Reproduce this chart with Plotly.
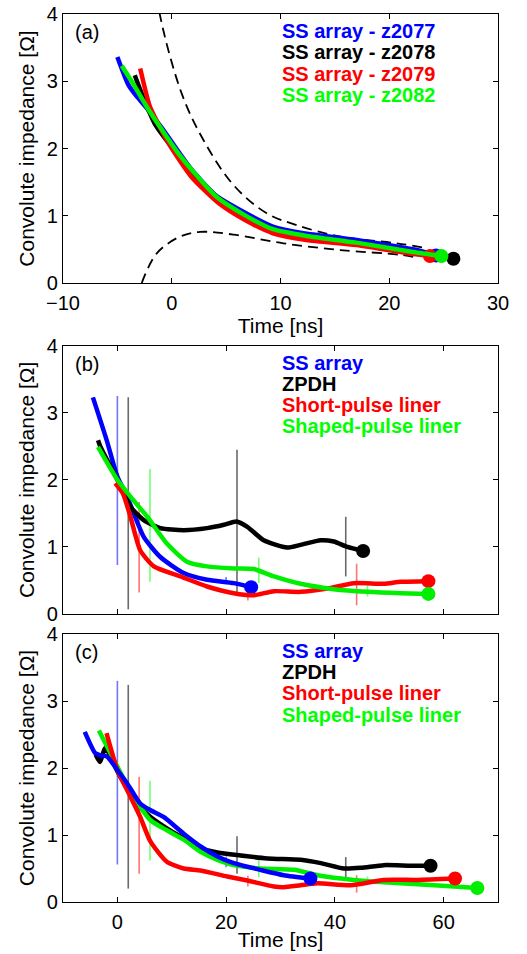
import plotly.graph_objects as go

# ---------------- Panel (a) data ----------------
a_blue_t = [-5.0, -4.0, -3.2, -2.3, -0.8, 1.7, 4.0, 6.7, 9.3, 12.1, 17.0, 22.8, 24.3]
a_blue_z = [3.36, 2.95, 2.77, 2.60, 2.28, 1.71, 1.31, 1.05, 0.84, 0.74, 0.64, 0.48, 0.41]
a_black_t = [-3.4, -2.6, -1.5, 0.0, 2.0, 4.3, 6.7, 9.3, 12.4, 17.0, 22.2, 25.9]
a_black_z = [3.09, 2.75, 2.35, 2.02, 1.62, 1.26, 1.00, 0.80, 0.69, 0.60, 0.46, 0.36]
a_red_t = [-2.9, -2.4, -2.0, -0.3, 1.8, 4.3, 6.7, 9.3, 12.4, 17.0, 22.2, 23.75]
a_red_z = [3.19, 2.85, 2.62, 2.08, 1.58, 1.19, 0.94, 0.74, 0.64, 0.565, 0.43, 0.40]
a_green_t = [-4.6, -3.5, -2.3, -1.0, 0.5, 2.0, 4.2, 6.7, 9.3, 12.4, 17.0, 22.2, 24.8]
a_green_z = [3.23, 2.95, 2.62, 2.30, 1.95, 1.65, 1.27, 1.01, 0.80, 0.70, 0.60, 0.46, 0.40]
a_upper_t = [-1.5, -1.08, 0.91, 2.9, 5.66, 8.7, 11.5, 15.5, 20.7, 23.4]
a_upper_z = [4.5, 3.98, 2.82, 2.13, 1.46, 1.04, 0.86, 0.69, 0.59, 0.52]
a_lower_t = [-2.76, -1.38, 0.76, 2.6, 5.66, 10.26, 15.5, 21.0, 22.2]
a_lower_z = [0.0, 0.44, 0.69, 0.76, 0.72, 0.59, 0.49, 0.42, 0.39]
a_names = ["SS array - z2077", "SS array - z2078", "SS array - z2079", "SS array - z2082"]

# ---------------- Panel (b) data ----------------
b_blue_t = [-4.5, -2.0, 0.0, 1.8, 4.85, 7.9, 12.2, 16.5, 21.4, 24.6]
b_blue_z = [3.23, 2.60, 2.05, 1.75, 1.15, 0.85, 0.61, 0.51, 0.46, 0.40]
b_black_t = [-3.56, -3.1, 0.0, 2.4, 4.85, 7.9, 12.2, 16.5, 19.6, 21.9, 23.9, 26.9, 31.2, 33.7, 37.4, 39.8, 42.3, 45.2]
b_black_z = [2.59, 2.49, 2.00, 1.60, 1.40, 1.28, 1.25, 1.28, 1.33, 1.38, 1.30, 1.10, 0.99, 1.03, 1.10, 1.08, 1.00, 0.94]
b_red_t = [-0.4, 1.0, 2.4, 4.2, 6.7, 11.6, 16.5, 21.4, 25.1, 28.8, 33.7, 38.6, 43.5, 49.0, 52.1, 57.2]
b_red_z = [1.95, 1.80, 1.45, 0.95, 0.71, 0.56, 0.41, 0.31, 0.28, 0.34, 0.33, 0.38, 0.46, 0.45, 0.48, 0.49]
b_green_t = [-3.56, 0.0, 2.4, 5.5, 9.1, 12.8, 16.5, 21.4, 25.1, 28.8, 33.7, 39.8, 46.0, 52.1, 57.2]
b_green_z = [2.49, 2.00, 1.75, 1.45, 1.05, 0.78, 0.71, 0.68, 0.67, 0.56, 0.45, 0.37, 0.33, 0.31, 0.30]
# error bars: time, centre, half-height
b_blue_eb_t = [0, 20]
b_blue_eb_c = [1.99, 0.50]
b_blue_eb_h = [1.26, 0.05]
b_black_eb_t = [2, 22, 42]
b_black_eb_c = [1.65, 1.36, 1.005]
b_black_eb_h = [1.58, 1.09, 0.445]
b_red_eb_t = [4, 24, 44]
b_red_eb_c = [0.995, 0.29, 0.44]
b_red_eb_h = [0.675, 0.09, 0.31]
b_green_eb_t = [6, 26, 46]
b_green_eb_c = [1.32, 0.65, 0.345]
b_green_eb_h = [0.84, 0.19, 0.085]

# ---------------- Panel (c) data ----------------
c_blue_t = [-6.0, -4.05, -3.1, -1.9, 0.0, 1.8, 4.2, 6.1, 8.5, 12.2, 15.3, 18.4, 21.4, 26.3, 30.6, 35.5]
c_blue_z = [2.54, 2.22, 2.19, 2.17, 1.97, 1.77, 1.47, 1.37, 1.27, 1.02, 0.83, 0.68, 0.58, 0.48, 0.40, 0.35]
c_black_t = [-4.0, -3.2, -2.2, 0.0, 3.0, 6.1, 9.1, 12.2, 15.3, 18.4, 22.0, 27.6, 33.7, 37.4, 41.7, 44.8, 49.0, 54.0, 57.6]
c_black_z = [2.20, 2.09, 2.30, 1.95, 1.52, 1.27, 1.10, 0.95, 0.80, 0.74, 0.70, 0.65, 0.63, 0.58, 0.50, 0.51, 0.55, 0.54, 0.54]
c_red_t = [-2.0, 0.0, 1.8, 4.2, 6.1, 9.1, 12.2, 15.3, 20.2, 23.9, 28.8, 30.6, 33.7, 36.8, 42.9, 49.0, 55.2, 62.1]
c_red_z = [2.52, 1.97, 1.67, 1.27, 0.90, 0.60, 0.50, 0.47, 0.38, 0.32, 0.23, 0.22, 0.25, 0.28, 0.25, 0.33, 0.33, 0.35]
c_green_t = [-3.4, 0.0, 3.0, 6.1, 9.1, 12.2, 15.3, 18.4, 21.4, 26.3, 32.5, 36.8, 41.1, 46.0, 52.1, 58.3, 66.2]
c_green_z = [2.56, 2.02, 1.57, 1.22, 1.07, 0.93, 0.75, 0.63, 0.55, 0.50, 0.48, 0.40, 0.35, 0.31, 0.28, 0.25, 0.21]
c_blue_eb_t = [0, 20]
c_blue_eb_c = [1.93, 0.60]
c_blue_eb_h = [1.37, 0.08]
c_black_eb_t = [2, 22, 42]
c_black_eb_c = [1.72, 0.70, 0.51]
c_black_eb_h = [1.52, 0.28, 0.16]
c_red_eb_t = [4, 24, 44]
c_red_eb_c = [1.145, 0.31, 0.27]
c_red_eb_h = [0.725, 0.08, 0.13]
c_green_eb_t = [6, 26, 46]
c_green_eb_c = [1.215, 0.50, 0.33]
c_green_eb_h = [0.595, 0.13, 0.05]
bc_names = ["SS array", "ZPDH", "Short-pulse liner", "Shaped-pulse liner"]

colors = ["#0000ff", "#000000", "#ff0000", "#00ee00"]
legend_colors = ["#0000ff", "#000000", "#ff0000", "#00ff00"]
eb_colors = ["rgba(90,90,255,0.85)", "rgba(90,90,90,0.9)", "rgba(255,100,100,0.9)", "rgba(100,255,100,0.9)"]
panel_labels = ["(a)", "(b)", "(c)"]

FONT = "Liberation Sans, Arial, Helvetica, sans-serif"
W, H = 527, 954
x_dom = [63 / W, 498 / W]
panels_px = [(14, 283), (345.7, 614), (634, 902)]
y_doms = [[1 - b / H, 1 - t / H] for t, b in panels_px]

fig = go.Figure()
LW = 4.5


def add_curve(t, z, color, ax, ay):
    fig.add_trace(go.Scatter(x=t, y=z, mode="lines", line=dict(color=color, width=LW, shape="spline", smoothing=0.6),
                             xaxis=ax, yaxis=ay, showlegend=False, hoverinfo="skip"))
    fig.add_trace(go.Scatter(x=[t[-1]], y=[z[-1]], mode="markers", marker=dict(color=color, size=14),
                             xaxis=ax, yaxis=ay, showlegend=False, hoverinfo="skip"))


def add_eb(t, c, h, color, ax, ay):
    fig.add_trace(go.Scatter(x=t, y=c, mode="markers", marker=dict(size=1, color="rgba(0,0,0,0)"),
                             error_y=dict(type="data", array=h, symmetric=True, width=0, thickness=1.6, color=color),
                             xaxis=ax, yaxis=ay, showlegend=False, hoverinfo="skip"))


# Panel (a)
for t, z in [(a_upper_t, a_upper_z), (a_lower_t, a_lower_z)]:
    fig.add_trace(go.Scatter(x=t, y=z, mode="lines", line=dict(color="black", width=1.8, dash="10px,6px", shape="spline"),
                             xaxis="x", yaxis="y", showlegend=False, hoverinfo="skip"))
for (t, z), col in zip([(a_blue_t, a_blue_z), (a_black_t, a_black_z), (a_red_t, a_red_z), (a_green_t, a_green_z)], colors):
    add_curve(t, z, col, "x", "y")

# Panel (b)
for (t, c, h), col in zip([(b_blue_eb_t, b_blue_eb_c, b_blue_eb_h), (b_black_eb_t, b_black_eb_c, b_black_eb_h),
                           (b_red_eb_t, b_red_eb_c, b_red_eb_h), (b_green_eb_t, b_green_eb_c, b_green_eb_h)], eb_colors):
    add_eb(t, c, h, col, "x2", "y2")
for (t, z), col in zip([(b_blue_t, b_blue_z), (b_black_t, b_black_z), (b_red_t, b_red_z), (b_green_t, b_green_z)], colors):
    add_curve(t, z, col, "x2", "y2")

# Panel (c)
for (t, c, h), col in zip([(c_blue_eb_t, c_blue_eb_c, c_blue_eb_h), (c_black_eb_t, c_black_eb_c, c_black_eb_h),
                           (c_red_eb_t, c_red_eb_c, c_red_eb_h), (c_green_eb_t, c_green_eb_c, c_green_eb_h)], eb_colors):
    add_eb(t, c, h, col, "x3", "y3")
for (t, z), col in zip([(c_black_t, c_black_z), (c_green_t, c_green_z), (c_red_t, c_red_z), (c_blue_t, c_blue_z)],
                       [colors[1], colors[3], colors[2], colors[0]]):
    add_curve(t, z, col, "x3", "y3")

axis_common = dict(showline=True, linecolor="black", linewidth=1.3, mirror="ticks", ticks="inside",
                   ticklen=5, tickwidth=1, tickcolor="black", showgrid=False, zeroline=False, automargin=False,
                   tickfont=dict(family=FONT, size=20, color="black"))
ytitle = dict(text="Convolute impedance [Ω]", font=dict(family=FONT, size=21, color="black"), standoff=6)
xtitle = dict(text="Time [ns]", font=dict(family=FONT, size=21, color="black"), standoff=0)

layout = dict(width=W, height=H, margin=dict(l=0, r=0, t=0, b=0), paper_bgcolor="white", plot_bgcolor="white",
              showlegend=False, template="none")
layout["xaxis"] = dict(axis_common, domain=x_dom, anchor="y", range=[-10, 30], tickmode="array",
                       tickvals=[-10, 0, 10, 20, 30], ticktext=["\u221210", "0", "10", "20", "30"], title=xtitle,
                       ticklabelstandoff=2)
layout["xaxis2"] = dict(axis_common, domain=x_dom, anchor="y2", range=[-10, 70], tickmode="array",
                        tickvals=[0, 20, 40, 60], showticklabels=False)
layout["xaxis3"] = dict(axis_common, domain=x_dom, anchor="y3", range=[-10, 70], tickmode="array",
                        tickvals=[0, 20, 40, 60], title=xtitle, ticklabelstandoff=2)
for i, key in enumerate(["yaxis", "yaxis2", "yaxis3"]):
    layout[key] = dict(axis_common, domain=y_doms[i], anchor=["x", "x2", "x3"][i], range=[0, 4],
                       tickmode="array", tickvals=[0, 1, 2, 3, 4], title=ytitle)
fig.update_layout(**layout)

ann = []
legend_y = [0.936, 0.857, 0.778, 0.699]
for i, (xr, yr) in enumerate([("x", "y"), ("x2", "y2"), ("x3", "y3")]):
    ann.append(dict(text=panel_labels[i], xref=xr + " domain", yref=yr + " domain", x=0.022, y=0.932,
                    xanchor="left", yanchor="middle", showarrow=False,
                    font=dict(family=FONT, size=20, color="black")))
    names = a_names if i == 0 else bc_names
    for j, nm in enumerate(names):
        ann.append(dict(text="<b>" + nm + "</b>", xref=xr + " domain", yref=yr + " domain", x=0.499, y=legend_y[j],
                        xanchor="left", yanchor="middle", showarrow=False,
                        font=dict(family=FONT, size=20, color=legend_colors[j])))
fig.update_layout(annotations=ann)

fig.write_html("out.html")
